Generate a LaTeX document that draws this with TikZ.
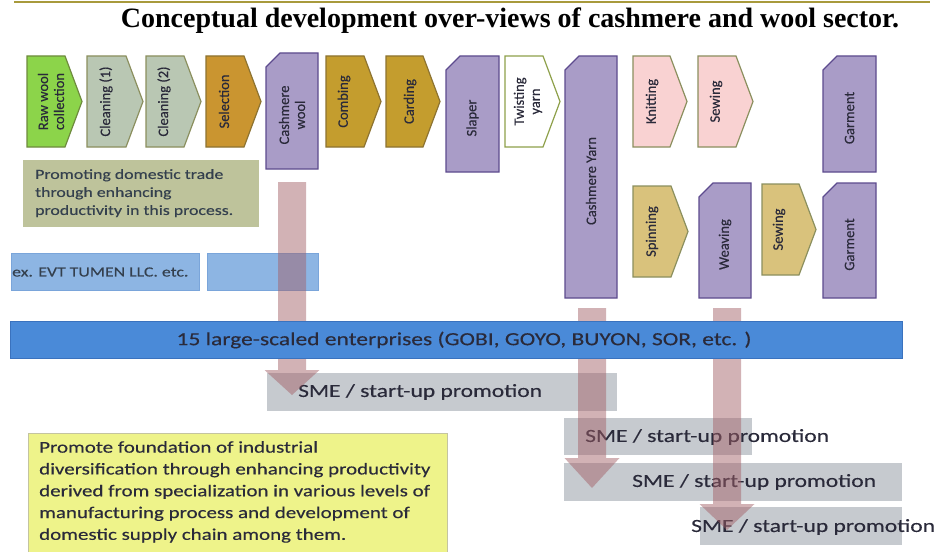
\documentclass[tikz,border=0pt]{standalone}
\usepackage{fontspec}
\setmainfont{Carlito}
\newfontfamily\calst{Carlito}[FakeStretch=1.27, FakeBold=0.3]
\newfontfamily\calrot{Carlito}[FakeBold=0.3]
\newfontfamily\titlefont{Liberation Serif}
\usetikzlibrary{calc}
\definecolor{rulegold}{HTML}{A89A3C}
\definecolor{greenf}{HTML}{8CD44A}
\definecolor{greend}{HTML}{6E8B3D}
\definecolor{cleanf}{HTML}{B9C7B3}
\definecolor{olived}{HTML}{8B8F5E}
\definecolor{self}{HTML}{CA9530}
\definecolor{goldf}{HTML}{C49D2E}
\definecolor{goldd}{HTML}{8D7331}
\definecolor{purpf}{HTML}{A99CC7}
\definecolor{purpd}{HTML}{5D4B8E}
\definecolor{twistd}{HTML}{8EA04A}
\definecolor{pinkf}{HTML}{F9D2D2}
\definecolor{khakif}{HTML}{D9C27C}
\definecolor{promf}{HTML}{BEC39B}
\definecolor{lblue}{HTML}{8DB5E3}
\definecolor{lblued}{HTML}{7AA5DA}
\definecolor{barblue}{HTML}{4A8AD8}
\definecolor{barblued}{HTML}{3A72BE}
\definecolor{smegray}{HTML}{C6CACF}
\definecolor{yelf}{HTML}{EEF38A}
\definecolor{yeld}{HTML}{C4C4A0}
\definecolor{arrowc}{HTML}{A35F66}
\definecolor{txtdark}{HTML}{2A2A3A}
\definecolor{txtslate}{HTML}{34404E}

\newcommand\chev[8]{%
  \draw[#6] (#2,#3) -- ({#4-17},#3) -- (#4,{(#3+#5)/2}) -- ({#4-17},#5) -- (#2,#5) -- cycle;
  \node[vtext] (#1) at ({#2+#7},{(#3+#5)/2}) {#8};
}
\newcommand\snipbox[6]{%
  \draw[purpbox] (#2,{#3+14}) -- ({#2+14},#3) -- (#4,#3) -- (#4,#5) -- (#2,#5) -- cycle;
  \node[vtext] (#1) at ({(#2+#4)/2},{(#3+#5)/2+4}) {#6};
}
\newcommand\blockarrow[5]{% name, xc, ytop, ybase, ytip
  \coordinate (#1s) at (#2,#3);
  \coordinate (#1t) at (#2,#5);
  \fill[arrowc, opacity=0.48] ($(#1s)+(-14,0)$) -- ($(#1s)+(14,0)$) -- ($(#2,#4)+(14,0)$)
     -- ($(#2,#4)+(27.5,0)$) -- (#1t) -- ($(#2,#4)+(-27.5,0)$) -- ($(#2,#4)+(-14,0)$) -- cycle;
}

\begin{document}
\begin{tikzpicture}[x=1pt,y=-1pt,
  vtext/.style={rotate=90, align=center, inner sep=0pt, text=txtdark,
    font=\calrot\fontsize{14.5}{16}\selectfont},
  purpbox/.style={fill=purpf, draw=purpd, line width=1.3pt},
  smebox/.style={fill=smegray, draw=none},
  smetext/.style={anchor=west, inner sep=0pt, text=txtdark,
    font=\calst\fontsize{18.5}{22}\selectfont},
]
\useasboundingbox (0,0) rectangle (941,551);
\fill[white] (0,0) rectangle (941,551);

% title
\draw[rulegold, line width=2pt] (14,2) -- (930,2);
\node[font=\titlefont\bfseries\fontsize{28}{30}\selectfont, inner sep=0pt] (title) at (510,21)
  {Conceptual development over-views of cashmere and wool sector.};

% top row
\chev{raw}{27}{56}{82}{147}{fill=greenf, draw=greend, line width=1.2pt}{24}{Raw wool\\collection}
\chev{clean1}{87}{56}{143}{147}{fill=cleanf, draw=olived, line width=1.2pt}{19}{Cleaning (1)}
\chev{clean2}{146}{56}{201}{147}{fill=cleanf, draw=olived, line width=1.2pt}{18}{Cleaning (2)}
\chev{select}{206}{56}{261}{147}{fill=self, draw=goldd, line width=1.2pt}{18}{Selection}
\snipbox{cwool}{266}{53}{318}{169}{Cashmere\\wool}
\chev{comb}{326}{56}{381}{147}{fill=goldf, draw=goldd, line width=1.2pt}{18}{Combing}
\chev{card}{386}{56}{440}{147}{fill=goldf, draw=goldd, line width=1.2pt}{24}{Carding}
\snipbox{slaper}{446}{56}{499}{172}{Slaper}
\chev{twist}{505}{56}{560}{147}{fill=white, draw=twistd, line width=1.2pt}{23}{Twisting\\yarn}
\snipbox{cyarn}{565}{56}{617}{298}{Cashmere Yarn}
\chev{knit}{633}{56}{687}{147}{fill=pinkf, draw=olived, line width=1.2pt}{19}{Knitting}
\chev{sew1}{698}{56}{753}{147}{fill=pinkf, draw=olived, line width=1.2pt}{18}{Sewing}
\snipbox{garm1}{823}{56}{876}{172}{Garment}

% second row
\chev{spin}{633}{186}{688}{277}{fill=khakif, draw=olived, line width=1.2pt}{19}{Spinning}
\snipbox{weave}{699}{183}{751}{298}{Weaving}
\chev{sew2}{762}{184}{816}{275}{fill=khakif, draw=olived, line width=1.2pt}{17}{Sewing}
\snipbox{garm2}{823}{183}{876}{298}{Garment}

% left boxes
\fill[promf] (23,160) rectangle (259,227);
\node[anchor=north west, align=left, inner sep=0pt, text=txtslate,
  font=\calst\fontsize{14}{18}\selectfont] (prom) at (35,169)
  {Promoting domestic trade\\through enhancing\\productivity in this process.};
\draw[fill=lblue, draw=lblued, line width=0.6pt] (11,253) rectangle (199,290);
\node[anchor=west, inner sep=0pt, text=txtslate, font=\calst\fontsize{14}{16}\selectfont]
  (evt) at (12,272) {ex. EVT TUMEN LLC. etc.};
\draw[fill=lblue, draw=lblued, line width=0.6pt] (207,253) rectangle (318,290);

% SME boxes
\fill[smebox] (267,373) rectangle (617,411);
\fill[smebox] (564,418) rectangle (752,455);
\fill[smebox] (564,463) rectangle (902,501);
\fill[smebox] (700,507) rectangle (902,545);
\node[smetext] (sme1) at (298,392) {SME / start-up promotion};
\node[smetext] (sme2) at (585,437) {SME / start-up promotion};
\node[smetext] (sme3) at (632,482) {SME / start-up promotion};
\node[smetext] (sme4) at (691,527) {SME / start-up promotion};

% yellow box
\draw[fill=yelf, draw=yeld, line width=0.8pt] (28,433) rectangle (447,556);
\node[anchor=north west, align=left, inner sep=0pt, text=txtdark,
  font=\calst\fontsize{16.5}{21.8}\selectfont] (found) at (39,441)
  {Promote foundation of industrial\\diversification through enhancing productivity\\derived from specialization in various levels of\\manufacturing process and development of\\domestic supply chain among them.};

% arrows
\blockarrow{a1}{292}{182}{370}{395}
\blockarrow{a2}{592}{308}{458}{488}
\blockarrow{a3}{727}{308}{504}{530}

% big bar
\draw[fill=barblue, draw=barblued, line width=0.6pt] (10,321) rectangle (902,358);
\node[inner sep=0pt, text=txtdark, font=\calst\fontsize{18.5}{22}\selectfont] (bar) at (464,340)
  {15 large-scaled enterprises (GOBI, GOYO, BUYON, SOR, etc. )};
\end{tikzpicture}
\end{document}
